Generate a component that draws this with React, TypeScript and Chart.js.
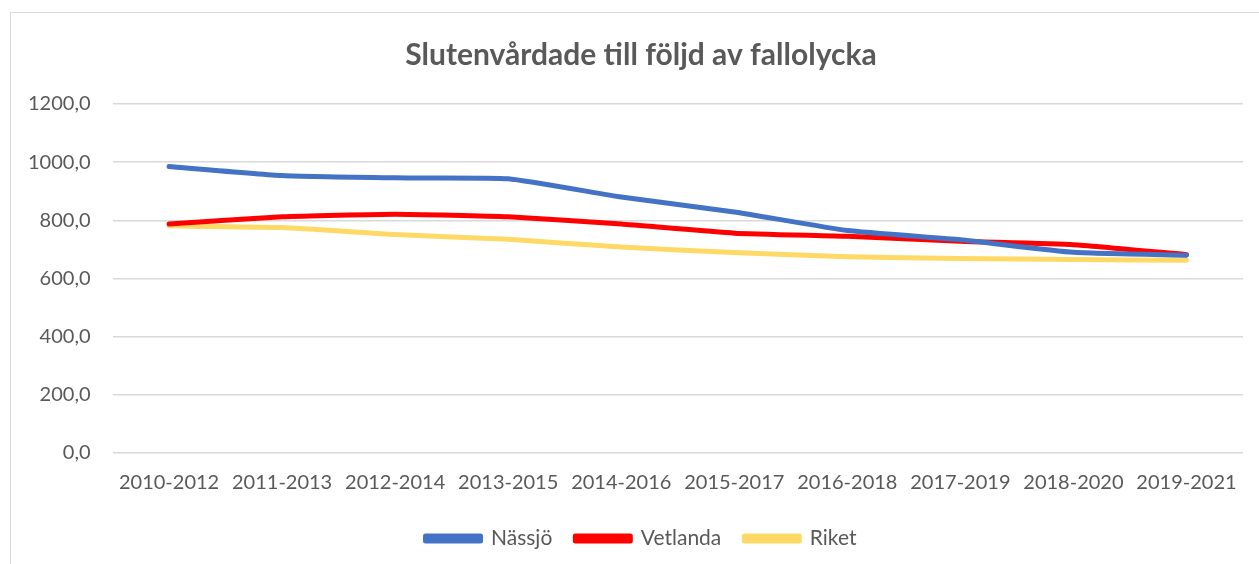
import React, { useEffect, useRef } from "react";
import { Chart, registerables } from "chart.js";

Chart.register(...registerables);

const categories = [
  "2010-2012", "2011-2013", "2012-2014", "2013-2015", "2014-2016",
  "2015-2017", "2016-2018", "2017-2019", "2018-2020", "2019-2021",
];
const nassjo = [985, 954, 946, 943, 880, 829, 765, 733, 690, 680];
const vetlanda = [787, 812, 821, 812, 787, 756, 745, 728, 716, 682];
const riket = [781, 775, 751, 735, 708, 689, 675, 669, 665, 663];

const FONT = "Lato, 'Open Sans', sans-serif";
const GRAY = "#595959";

export default function App() {
  const ref = useRef<HTMLCanvasElement | null>(null);
  useEffect(() => {
    if (!ref.current) return;
    const mk = (label: string, data: number[], color: string) => ({
      label,
      data,
      borderColor: color,
      backgroundColor: color,
      borderWidth: 5,
      pointRadius: 0,
      tension: 0.15,
      borderCapStyle: "round" as const,
      borderJoinStyle: "round" as const,
    });
    const chart = new Chart(ref.current, {
      type: "line",
      data: {
        labels: categories,
        datasets: [
          mk("Nässjö", nassjo, "#4472C4"),
          mk("Vetlanda", vetlanda, "#FF0000"),
          mk("Riket", riket, "#FFD966"),
        ],
      },
      options: {
        animation: false,
        responsive: true,
        maintainAspectRatio: false,
        layout: { padding: { left: 6, right: 14, top: 37, bottom: 5 } },
        plugins: {
          title: {
            display: true,
            text: "Slutenvårdade till följd av fallolycka",
            color: GRAY,
            font: { family: FONT, size: 30, weight: "bold" },
            padding: { top: 0, bottom: 31 },
          },
          legend: {
            position: "bottom",
            labels: {
              color: GRAY,
              font: { family: FONT, size: 21 },
              boxWidth: 55,
              boxHeight: 5,
              padding: 23,
            },
          },
          tooltip: { enabled: false },
        },
        scales: {
          x: {
            offset: true,
            grid: { display: false },
            border: { display: false },
            ticks: { color: GRAY, font: { family: FONT, size: 20 }, maxRotation: 0, autoSkip: false, padding: 10 },
          },
          y: {
            min: 0,
            max: 1200,
            grid: { color: "#d9d9d9", lineWidth: 1.5, drawTicks: false },
            border: { display: false },
            ticks: {
              stepSize: 200,
              color: GRAY,
              padding: 22,
              font: { family: FONT, size: 20 },
              callback: (v: any) => Number(v).toFixed(1).replace(".", ","),
            },
          },
          spacer: {
            type: "linear",
            position: "right",
            display: true,
            grid: { display: false },
            border: { display: false },
            ticks: { display: false },
            afterFit: (s: any) => { s.width = 33; },
          },
        },
      },
    });
    return () => chart.destroy();
  }, []);
  return (
    <div style={{ position: "fixed", left: 0, top: 0, width: 1259, height: 564, background: "#fff", overflow: "hidden" }}>
      <div style={{ position: "absolute", left: 10, top: 12, width: 1300, height: 600, border: "1px solid #d9d9d9" }} />
      <div style={{ position: "absolute", left: 0, top: 0, width: 1290, height: 564 }}>
        <canvas ref={ref} />
      </div>
    </div>
  );
}
